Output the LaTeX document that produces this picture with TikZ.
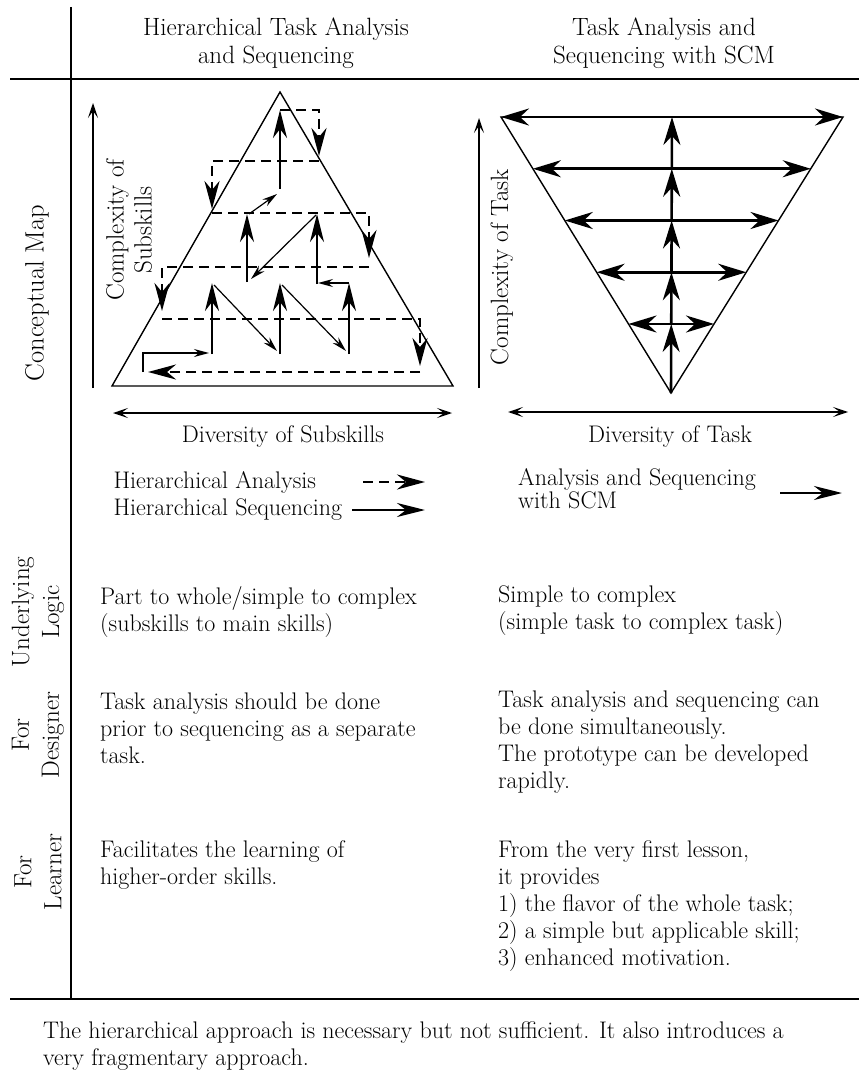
\documentclass[tikz,border=0pt]{standalone}
\usepackage{fontspec}
\usepackage{tikz}
\usetikzlibrary{calc,positioning}
\usetikzlibrary{arrows.meta}

\tikzset{
  rule/.style={line width=1.4pt},
  tri/.style={line width=1.4pt, line join=miter},
  axis/.style={line width=1.3pt, {Stealth[length=15pt,width=10pt,inset=7pt]}-{Stealth[length=15pt,width=10pt,inset=7pt]}},
  upaxis/.style={line width=1.3pt, -{Stealth[length=15pt,width=10pt,inset=7pt]}},
  ana/.style={line width=2.6pt, dash pattern=on 10pt off 6pt, -{Stealth[length=28pt,width=15pt,inset=9pt]}},
  seq/.style={line width=2.8pt, -{Stealth[length=28pt,width=14pt,inset=9pt]}},
  hop/.style={line width=1.2pt, -{Stealth[length=15pt,width=8pt,inset=5pt]}},
  scm/.style={line width=2.6pt, {Stealth[length=28pt,width=17pt,inset=9pt]}-{Stealth[length=28pt,width=17pt,inset=9pt]}},
  scmup/.style={line width=2.6pt, -{Stealth[length=28pt,width=17pt,inset=9pt]}},
  txt/.style={inner sep=0pt, anchor=north west, align=left},
  side/.style={rotate=90, align=center, inner sep=0pt, font=\fontsize{25}{30}\selectfont},
  head/.style={anchor=north, align=center, inner sep=0pt, font=\fontsize{25}{28}\selectfont},
}

\begin{document}
\begin{tikzpicture}[x=1pt,y=-1pt,font=\fontsize{24}{27}\selectfont]
  \useasboundingbox (0,0) rectangle (859,1083);
  %\draw[color=gray,step=10pt,help lines,opacity=0.3] (0,0) grid (859,1083); %help grids

  % table rules
  \draw[rule] (10,79) -- (859,79);
  \draw[rule] (10,999) -- (859,999);
  \draw[rule] (71,7) -- (71,999);

  % column heads
  \node[head] (headHier) at (276,18) {Hierarchical Task Analysis\\and Sequencing};
  \node[head] (headScm) at (664,18) {Task Analysis and\\Sequencing with SCM};

  % row heads
  \node[side, font=\fontsize{26.5}{30}\selectfont] (rowMap) at (37,293) {Conceptual Map};
  \node[side] (rowLogic) at (38,612) {Underlying\\Logic};
  \node[side] (rowDesigner) at (38,735) {For\\Designer};
  \node[side] (rowLearner) at (38,872) {For\\Learner};

  % hierarchical pyramid
  \coordinate (hA) at (280,92);
  \coordinate (hL) at (112,386);
  \coordinate (hR) at (453,386);
  \draw[tri] (hA) -- (hL) -- (hR) -- cycle;
  \draw[upaxis] (93,388) -- (93,103);
  \draw[axis] (113,413) -- (452,413);
  \node[side, font=\fontsize{25}{28}\selectfont] (cplxSub) at (129,230) {Complexity of\\Subskills};
  \node[anchor=base] (divSub) at (283,442) {Diversity of Subskills};

  \draw[ana] (280,110) -| (319,156);
  \draw[ana] (319,161) -| (212,209);
  \draw[ana] (212,213) -| (369,258);
  \draw[ana] (369,267) -| (162,311);
  \draw[ana] (162,319) -| (420,366);
  \draw[ana] (420,372) -- (148,372);

  \draw[hop] (143,372) -- (143,353) -- (209,353);
  \draw[seq] (212,354) -- (212,283);
  \draw[hop] (214,285) -- (277,351);
  \draw[seq] (280,354) -- (280,283);
  \draw[hop] (282,285) -- (346,351);
  \draw[seq] (349,354) -- (349,283);
  \draw[hop] (349,283) -- (318,283);
  \draw[seq] (317,284) -- (317,214);
  \draw[hop] (316,215) -- (251,279);
  \draw[seq] (247,282) -- (247,214);
  \draw[hop] (249,214) -- (277,194);
  \draw[seq] (280,189) -- (280,110);

  % SCM funnel
  \coordinate (sL) at (501,117);
  \coordinate (sR) at (843,117);
  \coordinate (sA) at (671,393);
  \draw[tri] (sL) -- (sR) -- (sA) -- cycle;
  \foreach \i in {1,...,5}{
    \coordinate (l\i) at ($(sL)!{(\i-1)*0.1875}!(sA)$);
    \coordinate (r\i) at ($(sR)!{(\i-1)*0.1875}!(sA)$);
    \coordinate (c\i) at ($(l\i)!.5!(r\i)$);
    \draw[scm] (l\i) -- (r\i);
  }
  \draw[scmup] (sA) -- (c5);
  \foreach \i [evaluate=\i as \j using int(\i+1)] in {4,3,2,1}
    \draw[scmup] (c\j) -- (c\i);
  \draw[upaxis] (479,388) -- (479,118);
  \draw[axis] (508,412) -- (848,412);
  \node[side] (cplxTask) at (502,267) {Complexity of Task};
  \node[anchor=base] (divTask) at (670,442) {Diversity of Task};

  % legends
  \node[anchor=base west] (legAna) at (110,488) {Hierarchical Analysis};
  \node[anchor=base west] (legSeq) at (110,515) {Hierarchical Sequencing};
  \draw[ana] (363,482) -- (425,482);
  \draw[seq] (352,510) -- (425,510);
  \node[txt, font=\fontsize{24}{23}\selectfont] (legScm) at (518,468) {Analysis and Sequencing\\with SCM};
  \draw[seq] (780,493) -- (842,493);

  % rows of text
  \node[txt] (logicHier) at (100,586) {Part to whole/simple to complex\\(subskills to main skills)};
  \node[txt] (logicScm) at (498,586) {Simple to complex\\(simple task to complex task)};
  \node[txt] (desHier) at (100,693) {Task analysis should be done\\prior to sequencing as a separate\\task.};
  \node[txt] (desScm) at (498,691) {Task analysis and sequencing can\\be done simultaneously.\\The prototype can be developed\\rapidly.};
  \node[txt] (lrnHier) at (100,840) {Facilitates the learning of\\higher-order skills.};
  \node[txt] (lrnScm) at (498,840) {From the very first lesson,\\it provides\\1) the flavor of the whole task;\\2) a simple but applicable skill;\\3) enhanced motivation.};

  \node[txt] (remark) at (43,1021) {The hierarchical approach is necessary but not sufficient. It also introduces a\\very fragmentary approach.};
\end{tikzpicture}
\end{document}
